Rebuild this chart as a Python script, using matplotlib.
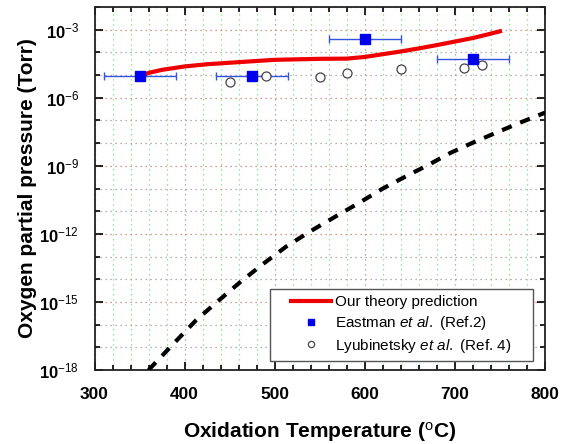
import matplotlib
matplotlib.use("Agg")
import matplotlib.pyplot as plt
from matplotlib.ticker import FixedLocator, NullFormatter
from matplotlib.lines import Line2D
from matplotlib.patches import Rectangle

plt.rcParams['font.family'] = ['Liberation Sans', 'DejaVu Sans']
plt.rcParams['mathtext.fontset'] = 'custom'
plt.rcParams['mathtext.rm'] = 'Liberation Sans'
plt.rcParams['mathtext.it'] = 'Liberation Sans:italic'
plt.rcParams['mathtext.bf'] = 'Liberation Sans:bold'

# ---- data ----
theory_T = [350, 360, 375, 400, 425, 450, 500, 550, 580, 600, 620, 640, 660, 680, 700, 720, 735, 750]
theory_P = [8.5e-6, 1.25e-5, 1.7e-5, 2.4e-5, 3.0e-5, 3.5e-5, 4.7e-5, 5.2e-5, 5.3e-5, 6.3e-5,
            8.3e-5, 1.1e-4, 1.5e-4, 2.1e-4, 3.0e-4, 4.3e-4, 6.0e-4, 8.5e-4]

dash_T = [360, 390, 413, 436, 461, 487, 513, 539, 569, 595, 620, 646, 670, 695, 720, 750, 772, 800]
dash_P = [1.0e-18, 1.8e-17, 1.6e-16, 1.0e-15, 7.1e-15, 4.7e-14, 2.8e-13, 1.26e-12, 6.3e-12,
          2.5e-11, 1.0e-10, 3.5e-10, 1.07e-9, 3.7e-9, 1.05e-8, 3.4e-8, 7.9e-8, 2.2e-7]

eastman_T = [350, 475, 600, 720]
eastman_P = [8.7e-6, 9.5e-6, 4.0e-4, 5.2e-5]
eastman_Terr = [40, 40, 40, 40]

lyub_T = [450, 490, 550, 580, 640, 710, 730]
lyub_P = [4.8e-6, 9.3e-6, 8.1e-6, 1.26e-5, 1.9e-5, 2.1e-5, 2.7e-5]

x_ticks = [300, 400, 500, 600, 700, 800]
y_major = [1e-18, 1e-15, 1e-12, 1e-9, 1e-6, 1e-3]
y_labels = [r'$\mathbf{10}^{-18}$', r'$\mathbf{10}^{-15}$', r'$\mathbf{10}^{-12}$',
            r'$\mathbf{10}^{-9}$', r'$\mathbf{10}^{-6}$', r'$\mathbf{10}^{-3}$']
legend_labels = ['Our theory prediction', r'Eastman $\it{et\ al.}$ (Ref.2)',
                 r'Lyubinetsky $\it{et\ al.}$ (Ref. 4)']

fig = plt.figure(figsize=(5.67, 4.44), dpi=100)
ax = fig.add_axes([0.1667, 0.1667, 0.7945, 0.8175])

ax.plot(theory_T, theory_P, color='#ee0000', lw=3, zorder=4)
ax.plot(dash_T, dash_P, color='black', lw=3, dashes=(2.5, 2.2), zorder=4)
ax.errorbar(eastman_T, eastman_P, xerr=eastman_Terr, fmt='s', color='#0000ee', ms=6.5,
            ecolor='#3355dd', elinewidth=1, capsize=3, capthick=1, zorder=5)
ax.plot(lyub_T, lyub_P, 'o', mfc='white', mec='#444444', mew=0.9, ms=6.5, zorder=5)

ax.set_yscale('log')
ax.set_xlim(300, 800)
ax.set_ylim(1e-18, 1e-2)

ax.set_xticks(x_ticks)
ax.set_xticklabels([str(t) for t in x_ticks], fontsize=12.5, fontweight='bold')
ax.xaxis.set_minor_locator(FixedLocator(list(range(300, 801, 20))))
ax.yaxis.set_major_locator(FixedLocator(y_major))
ax.set_yticklabels(y_labels, fontsize=12)
ax.yaxis.set_minor_locator(FixedLocator([10.0 ** k for k in range(-18, -1)]))
ax.yaxis.set_minor_formatter(NullFormatter())

ax.tick_params(which='both', direction='in', top=True, right=True, width=1.2)
ax.tick_params(which='major', length=6)
ax.tick_params(which='minor', length=3.5)
ax.tick_params(axis='x', which='major', pad=12)
ax.tick_params(axis='y', which='major', pad=11)

ax.grid(True, which='major', axis='x', color='#999999', ls=(0, (1, 3)), lw=0.9)
ax.grid(True, which='minor', axis='x', color='#77e077', ls=(0, (1, 3)), lw=0.9)
ax.grid(True, which='major', axis='y', color='#cc7777', ls=(0, (1, 3)), lw=0.9)
ax.grid(True, which='minor', axis='y', color='#999999', ls=(0, (1, 3)), lw=0.9)
ax.set_axisbelow(True)
for s in ax.spines.values():
    s.set_linewidth(1.3)
    s.set_color('#222222')

ax.set_xlabel(r'Oxidation Temperature ($^{\mathrm{o}}$C)', fontsize=15, fontweight='bold')
ax.set_ylabel('Oxygen partial pressure (Torr)', fontsize=15, fontweight='bold')
ax.xaxis.set_label_coords(0.5, -0.138)
ax.yaxis.set_label_coords(-0.128, 0.5)

# legend frame and entries
box = Rectangle((0.3896, 0.0248), 0.5838, 0.1983, transform=ax.transAxes,
                facecolor='white', edgecolor='#555555', lw=1.0, zorder=6)
ax.add_patch(box)
handles = [Line2D([], [], color='#ee0000', lw=3),
           Line2D([], [], ls='none', marker='s', color='#0000ee', ms=5),
           Line2D([], [], ls='none', marker='o', mfc='white', mec='#444444', mew=0.9, ms=4.5)]
leg = ax.legend(handles, legend_labels, loc='center', bbox_to_anchor=(0.6815, 0.124),
                fontsize=11, frameon=False, handlelength=2.6, handletextpad=0.25,
                borderpad=0.2, labelspacing=0.3)
leg.set_zorder(7)

fig.savefig('out.png', dpi=100)
